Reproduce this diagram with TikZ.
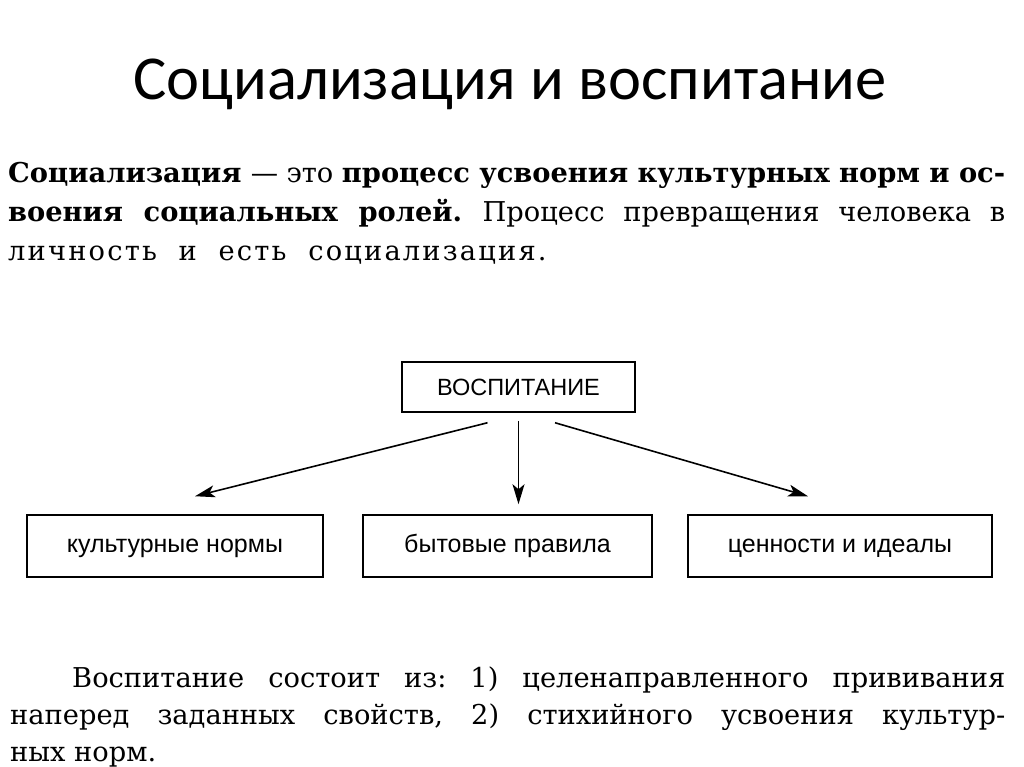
\documentclass[tikz,border=0pt]{standalone}
\usepackage{fontspec}
\setmainfont{DejaVu Serif}
\newfontfamily\titlefont{Carlito}
\newfontfamily\boxfont{Liberation Sans}
\usetikzlibrary{arrows.meta}
\frenchspacing

\begin{document}
\begin{tikzpicture}[x=1pt,y=-1pt]
			\tikzstyle{heading} = [anchor=base, font=\titlefont\fontsize{62.5}{64}\selectfont]
			\tikzstyle{textline} = [anchor=base west, inner sep=0pt, font=\fontsize{27.3}{32}\selectfont]
			\tikzstyle{mainbox} = [draw, line width=1.5pt, minimum width=233pt, minimum height=50pt, text height=20pt, text depth=4pt, font=\boxfont\fontsize{23.5}{26}\selectfont]
			\tikzstyle{partbox} = [draw, line width=1.5pt, minimum height=62pt, text height=16pt, text depth=4pt, font=\boxfont\fontsize{25}{28}\selectfont]
			\tikzset{edge/.style = {line width=1.6pt, -{Stealth[length=20pt,width=12pt,inset=5pt]}}}

			\useasboundingbox[fill=white] (0,0) rectangle (1024,767);

			\node[heading](title) at (510,100) {Социализация и воспитание};

			\node[textline](def1) at (8,183) {\makebox[997pt][s]{\bfseries Социализация \mdseries — это \bfseries процесс усвоения культурных норм и ос-}};
			\node[textline](def2) at (8,222) {\makebox[997pt][s]{\bfseries воения социальных ролей. \mdseries Процесс превращения человека в}};
			\node[textline](def3) at (8,260) {\addfontfeatures{LetterSpace=8}личность \ и \ есть \ социализация.};

			\node[mainbox](vosp) at (518.5,387) {ВОСПИТАНИЕ};
			\node[partbox, minimum width=296pt](norms) at (175,546) {культурные нормы};
			\node[partbox, minimum width=289pt](rules) at (507.5,546) {бытовые правила};
			\node[partbox, minimum width=304pt](ideals) at (840,546) {ценности и идеалы};

			\draw[edge]([xshift=-31pt,yshift=-10pt]vosp.south) -- ([xshift=20pt,yshift=18pt]norms.north);
			\draw[edge]([yshift=-8pt]vosp.south) -- ([xshift=11pt,yshift=10pt]rules.north);
			\draw[edge]([xshift=36.5pt,yshift=-10pt]vosp.south) -- ([xshift=-32pt,yshift=18pt]ideals.north);

			\node[textline](comp1) at (72,687) {\makebox[933pt][s]{Воспитание состоит из: 1) целенаправленного прививания}};
			\node[textline](comp2) at (10,724) {\makebox[995pt][s]{наперед заданных свойств, 2) стихийного усвоения культур-}};
			\node[textline](comp3) at (10,761) {ных норм.};

			\end{tikzpicture}
\end{document}
